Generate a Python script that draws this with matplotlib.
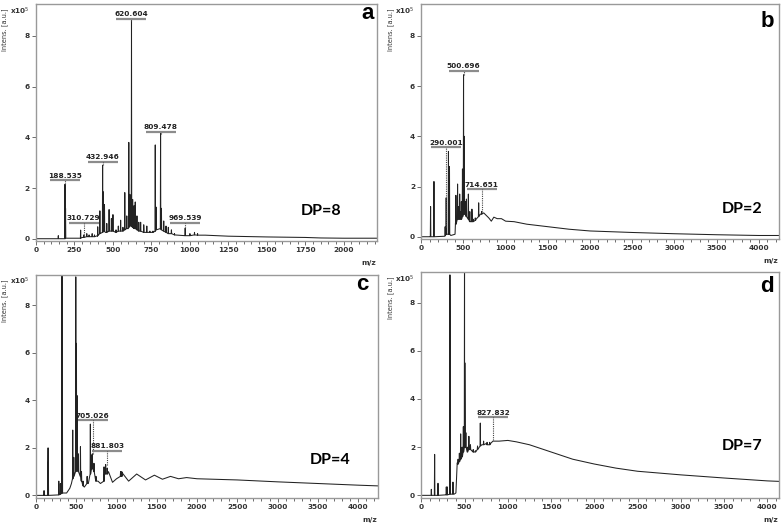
import numpy as np
import matplotlib
matplotlib.use("Agg")
import matplotlib.pyplot as plt
from matplotlib.ticker import MultipleLocator

# ---- data (intensity in units of 1e5) ----
# panel a, DP=8
a_peak_mz = [145, 188.5, 192, 290, 310.7, 330, 345, 365, 380, 401, 415, 432.9, 437, 445, 460, 475, 490, 500,
             520, 535, 550, 565, 577, 590, 603, 610, 620.6, 628, 637, 645, 656, 668, 680, 700, 720, 740, 760,
             775, 780, 809.5, 815, 830, 845, 860, 880, 900, 969.5, 1000, 1030, 1050]
a_peak_top = [0.12, 2.15, 1.2, 0.34, 0.15, 0.2, 0.15, 0.2, 0.15, 0.47, 1.1, 2.9, 1.85, 1.35, 0.6, 1.15, 0.8, 0.95,
              0.35, 0.5, 0.73, 0.45, 1.82, 0.9, 3.8, 1.75, 8.6, 1.55, 1.3, 1.45, 0.9, 0.65, 0.65, 0.55, 0.5, 0.3, 0.3,
              3.7, 1.25, 4.15, 1.2, 0.7, 0.5, 0.45, 0.35, 0.2, 0.42, 0.2, 0.25, 0.2]
a_peak_foot = [0.0, 0.0, 0.02, 0.02, 0.05, 0.08, 0.08, 0.08, 0.08, 0.12, 0.2, 0.25, 0.3, 0.3, 0.25, 0.3, 0.3, 0.3,
               0.25, 0.3, 0.3, 0.3, 0.35, 0.4, 0.45, 0.5, 0.5, 0.45, 0.4, 0.4, 0.35, 0.3, 0.3, 0.25, 0.25, 0.25, 0.25,
               0.3, 0.35, 0.4, 0.35, 0.3, 0.25, 0.2, 0.2, 0.15, 0.12, 0.12, 0.15, 0.14]
a_base_mz = [0, 140, 280, 300, 400, 450, 600, 700, 900, 1000, 1050, 1100, 1250, 1500, 1750, 1850, 2000, 2220]
a_base_int = [0, 0, 0.02, 0.05, 0.1, 0.25, 0.4, 0.3, 0.15, 0.15, 0.2, 0.14, 0.1, 0.07, 0.05, 0.03, 0.02, 0.02]
a_lab_mz = [188.535, 310.729, 432.946, 620.604, 809.478, 969.539]
a_lab_y = [2.3, 0.63, 3.03, 8.68, 4.22, 0.63]
a_lab_end = [2.15, 0.15, 2.9, 8.6, 4.15, 0.42]

# panel b, DP=2
b_peak_mz = [110, 150, 283, 295, 322, 334, 410, 430, 443, 455, 465, 475, 488, 500.7, 510, 520, 535, 558, 575,
             600, 615, 640, 680, 714.7]
b_peak_top = [1.2, 2.2, 0.4, 1.55, 3.4, 2.8, 1.65, 2.1, 1.2, 1.7, 1.0, 1.4, 2.7, 6.45, 4.0, 1.4, 1.5, 1.7, 1.0,
              1.1, 0.7, 0.75, 1.35, 1.0]
b_peak_foot = [0, 0, 0.05, 0.1, 0.1, 0.1, 0.5, 0.7, 0.7, 0.7, 0.7, 0.7, 0.8, 0.9, 0.9, 0.9, 0.8, 0.7, 0.6,
               0.6, 0.6, 0.65, 0.8, 0.9]
b_base_mz = [0, 100, 280, 350, 400, 405, 600, 650, 700, 740, 800, 830, 860, 900, 950, 1000, 1100, 1250, 1500,
             1750, 2000, 2500, 3000, 3500, 4000, 4240]
b_base_int = [0, 0, 0.02, 0.05, 0.1, 0.55, 0.6, 0.7, 0.9, 0.95, 0.75, 0.62, 0.78, 0.72, 0.72, 0.62, 0.6, 0.5, 0.4,
              0.3, 0.23, 0.17, 0.12, 0.08, 0.05, 0.05]
b_lab_mz = [290.001, 500.696, 714.651]
b_lab_y = [3.56, 6.6, 1.89]
b_lab_end = [0.4, 6.45, 1.0]

# panel c, DP=4
c_peak_mz = [100, 150, 153, 283, 303, 323, 327, 456, 469, 494, 502, 510, 525, 552, 565, 585, 635, 675, 690,
             700, 720, 745, 845, 865, 885, 1050, 1065]
c_peak_top = [0.2, 2.0, 1.4, 0.6, 0.5, 12, 7.2, 2.75, 1.6, 9.2, 6.4, 4.2, 1.75, 2.05, 1.0, 0.6, 0.8, 3.0, 1.7,
              1.75, 1.35, 0.8, 1.2, 1.3, 1.15, 1.0, 1.0]
c_peak_foot = [0, 0, 0, 0.02, 0.05, 0.1, 0.1, 0.7, 0.8, 1.0, 1.1, 1.1, 1.0, 0.8, 0.6, 0.4, 0.5, 0.9, 1.1,
               1.2, 1.0, 0.6, 0.6, 0.9, 0.9, 0.8, 0.8]
c_base_mz = [0, 90, 280, 340, 380, 420, 440, 460, 600, 650, 720, 770, 800, 850, 900, 950, 1000, 1070, 1150,
             1250, 1360, 1470, 1570, 1670, 1770, 1870, 2000, 2500, 3000, 3500, 4000, 4245]
c_base_int = [0, 0, 0.02, 0.1, 0.1, 0.3, 0.5, 0.7, 0.35, 0.5, 1.0, 0.6, 0.5, 0.9, 1.0, 0.55, 0.7, 0.95, 0.6,
              0.9, 0.65, 0.85, 0.68, 0.8, 0.7, 0.75, 0.7, 0.65, 0.57, 0.5, 0.43, 0.4]
c_lab_mz = [705.026, 881.803]
c_lab_y = [3.16, 1.88]
c_lab_end = [1.75, 1.3]

# panel d, DP=7
d_peak_mz = [116, 154, 193, 289, 300, 331, 333, 366, 425, 440, 455, 472, 486, 500, 503, 515, 533, 550, 568,
             600, 625, 650, 682, 720, 760, 790]
d_peak_top = [0.25, 1.7, 0.5, 0.35, 0.35, 9.15, 6.5, 0.55, 1.5, 1.75, 2.55, 2.0, 2.85, 12, 5.5, 2.6, 2.0, 2.45,
              2.1, 1.9, 1.85, 2.05, 3.0, 2.25, 2.2, 2.2]
d_peak_foot = [0, 0, 0, 0.02, 0.02, 0.05, 0.05, 0.05, 1.3, 1.4, 1.5, 1.6, 1.8, 2.0, 2.0, 2.0, 1.8, 1.9, 1.9,
               1.8, 1.8, 1.9, 2.05, 2.1, 2.1, 2.1]
d_base_mz = [0, 100, 280, 380, 400, 415, 600, 700, 750, 800, 828, 900, 1000, 1100, 1250, 1500, 1750, 2000,
             2250, 2500, 3000, 3500, 4000, 4135]
d_base_int = [0, 0, 0.02, 0.05, 0.1, 1.35, 1.8, 2.1, 2.15, 2.15, 2.25, 2.25, 2.28, 2.22, 2.1, 1.8, 1.5, 1.3,
              1.13, 1.0, 0.85, 0.72, 0.6, 0.58]
d_lab_mz = [827.832]
d_lab_y = [3.24]
d_lab_end = [2.3]

W, H = 784, 523
fig = plt.figure(figsize=(W / 100, H / 100), dpi=100)


def px_box(l, r, t, b):
    return [l / W, 1 - b / H, (r - l) / W, (b - t) / H]


panels = [
    dict(box=px_box(36, 377, 4, 241), xlim=(0, 2216), ylim=(-0.09, 9.26), major=250, minor=50,
         peaks=(a_peak_mz, a_peak_top, a_peak_foot), base=(a_base_mz, a_base_int),
         labs=(a_lab_mz, a_lab_y, a_lab_end), letter="a", let_xy=(367.7, 19.3),
         dp="DP=8", dp_xy=(321, 215), hw=1.5),
    dict(box=px_box(421.3, 778.7, 4, 239), xlim=(0, 4237), ylim=(-0.09, 9.27), major=500, minor=100,
         peaks=(b_peak_mz, b_peak_top, b_peak_foot), base=(b_base_mz, b_base_int),
         labs=(b_lab_mz, b_lab_y, b_lab_end), letter="b", let_xy=(767.5, 26.7),
         dp="DP=2", dp_xy=(742, 213.3), hw=3),
    dict(box=px_box(36, 377.7, 274.7, 498), xlim=(0, 4243), ylim=(-0.11, 9.29), major=500, minor=100,
         peaks=(c_peak_mz, c_peak_top, c_peak_foot), base=(c_base_mz, c_base_int),
         labs=(c_lab_mz, c_lab_y, c_lab_end), letter="c", let_xy=(362.7, 290.3),
         dp="DP=4", dp_xy=(330, 463.7), hw=3),
    dict(box=px_box(421.3, 778.7, 272, 498), xlim=(0, 4131), ylim=(-0.11, 9.27), major=500, minor=100,
         peaks=(d_peak_mz, d_peak_top, d_peak_foot), base=(d_base_mz, d_base_int),
         labs=(d_lab_mz, d_lab_y, d_lab_end), letter="d", let_xy=(767, 292),
         dp="DP=7", dp_xy=(742, 450.3), hw=3),
]

tick_font = dict(fontsize=5.3, fontweight="bold", color="#333333")

for p in panels:
    ax = fig.add_axes(p["box"])
    # build one spectrum trace from baseline points and narrow peaks
    mz, top, foot = p["peaks"]
    hw = p["hw"]
    xs = list(p["base"][0])
    ys = list(p["base"][1])
    for m, t, f in zip(mz, top, foot):
        xs += [m - hw, m, m + hw]
        ys += [f, t, f]
    order = np.argsort(xs, kind="stable")
    xs = np.array(xs)[order]
    ys = np.array(ys)[order]
    ax.plot(xs, ys, color="#222222", lw=0.75)

    ax.set_xlim(*p["xlim"])
    ax.set_ylim(*p["ylim"])
    ax.xaxis.set_major_locator(MultipleLocator(p["major"]))
    ax.xaxis.set_minor_locator(MultipleLocator(p["minor"]))
    ax.yaxis.set_major_locator(MultipleLocator(2))
    ax.tick_params(which="both", direction="out", color="#555555", width=0.6, pad=1.5)
    ax.tick_params(which="major", length=3)
    ax.tick_params(which="minor", length=2)
    for lab in ax.get_xticklabels() + ax.get_yticklabels():
        lab.set(**tick_font)
    for s in ax.spines.values():
        s.set_color("#999999")
        s.set_linewidth(1.0)

    # peak labels: text over a grey bar, dotted drop line to the peak
    lmz, ly, lend = p["labs"]
    ax_w_px = p["box"][2] * W
    bar_hw = 15 * (p["xlim"][1] - p["xlim"][0]) / ax_w_px
    for m, y, e in zip(lmz, ly, lend):
        ax.plot([m - bar_hw, m + bar_hw], [y, y], color="#8c8c8c", lw=1.6, solid_capstyle="butt")
        ax.plot([m, m], [e, y], color="#444444", lw=0.8, ls=(0, (1, 1)))
        ax.annotate(f"{m:.3f}", xy=(m, y), xytext=(0, 1.2), textcoords="offset points",
                    ha="center", va="bottom", fontsize=5.3, fontweight="bold", color="#222222")

    l, b, w, h = p["box"]
    lx = l * W
    ty = (1 - b - h) * H
    fig.text((lx - 31) / W, 1 - (ty + 26) / H, "Intens. [a.u.]", rotation=90, ha="center", va="center",
             fontsize=4.8, color="#333333")
    fig.text((lx - 16.5) / W, 1 - (ty + 7) / H, r"x10$^5$", ha="center", va="center",
             fontsize=5.2, fontweight="bold", color="#333333")
    fig.text((lx + w * W - 1) / W, 1 - (ty + h * H + 22) / H, "m/z", ha="right", va="center",
             fontsize=5.3, fontweight="bold", color="#333333")
    fig.text(p["let_xy"][0] / W, 1 - p["let_xy"][1] / H, p["letter"], ha="center", va="baseline",
             family="Liberation Sans", fontsize=16, fontweight="bold", color="black")
    fig.text(p["dp_xy"][0] / W, 1 - p["dp_xy"][1] / H, p["dp"], ha="center", va="baseline",
             family="Lato", fontsize=11.5, fontweight="bold", color="black")

fig.savefig("out.png", dpi=100)
